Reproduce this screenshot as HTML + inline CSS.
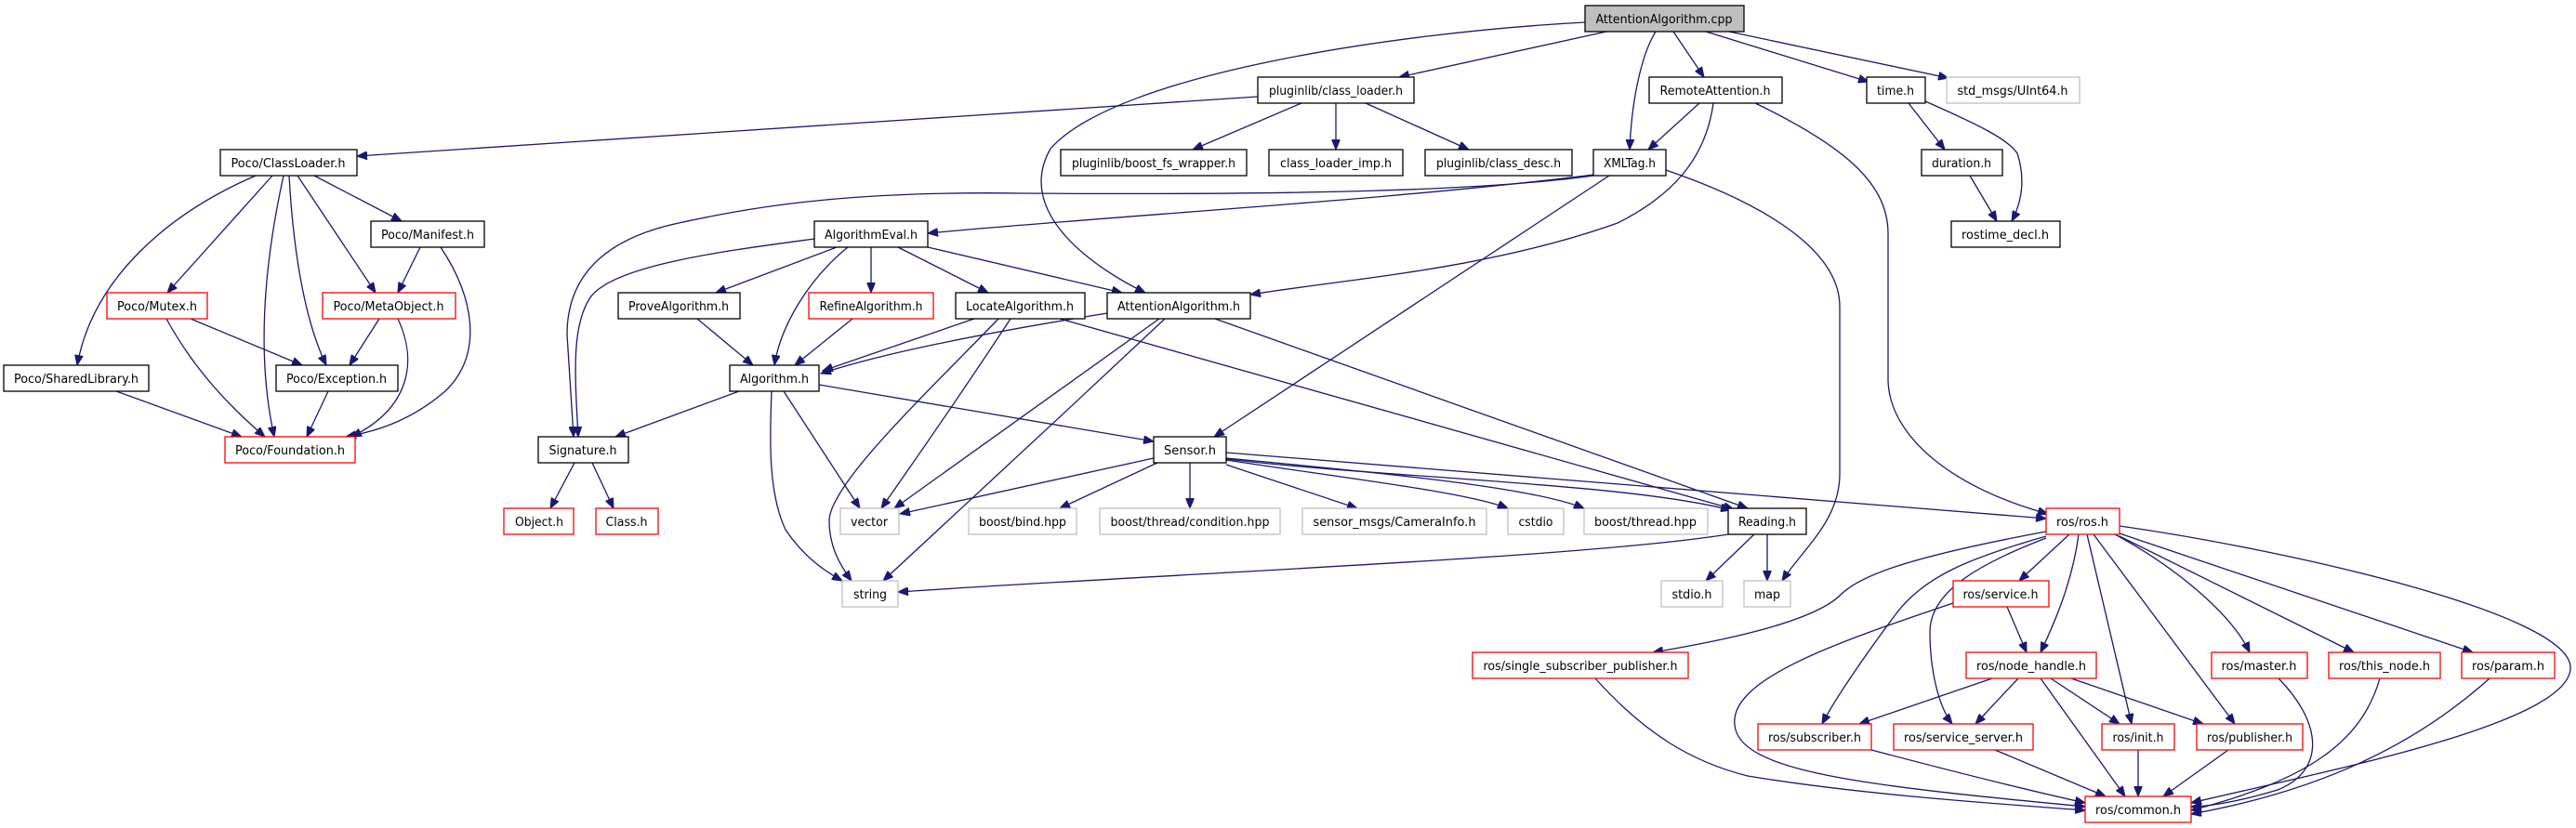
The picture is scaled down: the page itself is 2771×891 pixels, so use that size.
<!DOCTYPE html>
<html><head><meta charset="utf-8"><style>
html,body{margin:0;padding:0;background:#fff;}
svg{display:block;}
.n{fill:#fff;stroke:#000;stroke-width:1.3;}
.r{fill:#fff;stroke:#ff0000;stroke-width:1.3;}
.g{fill:#fff;stroke:#bfbfbf;stroke-width:1.3;}
text{font-family:"DejaVu Sans","Liberation Sans",sans-serif;font-size:13px;fill:#000;text-anchor:middle;}
path{fill:none;stroke:#191970;stroke-width:1.3;}
</style></head><body>
<svg width="2771" height="891" viewBox="0 0 2771 891" xmlns="http://www.w3.org/2000/svg">
<defs><marker id="a" markerUnits="userSpaceOnUse" markerWidth="12" markerHeight="9" refX="11" refY="4.5" orient="auto"><path d="M0,0 L11,4.5 L0,9 z" style="fill:#191970;stroke:#191970;stroke-width:1"/></marker></defs>
<g marker-end="url(#a)">
<path d="M1728,34 L1505,83"/>
<path d="M1781,34 C1765,60 1755,110 1753,161"/>
<path d="M1800,34 L1833,83"/>
<path d="M1860,34 L2096,84"/>
<path d="M1835,34 L2010,88"/>
<path d="M1705,24 C1500,35 1200,80 1130,160 C1090,230 1180,290 1232,315"/>
<path d="M1353,104 L384,168"/>
<path d="M1400,111 L1283,161"/>
<path d="M1437,111 L1437,161"/>
<path d="M1469,111 L1580,161"/>
<path d="M1828,111 L1773,161"/>
<path d="M1843,111 C1835,170 1800,210 1740,240 C1600,290 1450,300 1345,317"/>
<path d="M1888,111 C1990,160 2030,200 2031,250 L2031,410 C2033,470 2100,525 2203,553"/>
<path d="M1792,183 C1900,220 1979,270 1979,330 L1979,510 C1979,560 1940,590 1917,625"/>
<path d="M2053,111 L2092,161"/>
<path d="M2071,109 C2130,135 2160,150 2170,165 C2178,190 2176,215 2164,238"/>
<path d="M2119,189 L2148,238"/>
<path d="M1714,188 C1500,215 1200,232 998,251"/>
<path d="M1714,189 C1600,205 1400,210 1100,208 C900,205 800,225 730,240 C660,255 610,290 610,360 L617,470"/>
<path d="M1731,189 L1306,470"/>
<path d="M876,257 C780,270 660,285 635,320 C615,350 618,400 622,470"/>
<path d="M900,266 L770,315"/>
<path d="M912,266 C870,300 840,350 833,393"/>
<path d="M937,266 L937,315"/>
<path d="M966,266 L1063,315"/>
<path d="M998,266 L1207,315"/>
<path d="M750,343 L810,393"/>
<path d="M917,343 L855,393"/>
<path d="M1048,343 L885,399"/>
<path d="M1191,337 C1050,360 950,380 883,402"/>
<path d="M1087,343 Q1030,430 948,547"/>
<path d="M1074,343 C1000,420 893,520 892,560 C892,590 905,610 916,625"/>
<path d="M1140,343 L1865,548"/>
<path d="M1247,343 L962,547"/>
<path d="M1253,343 C1150,440 1020,560 950,625"/>
<path d="M1307,343 L1880,547"/>
<path d="M795,421 L662,470"/>
<path d="M881,414 L1241,475"/>
<path d="M843,421 L925,547"/>
<path d="M830,421 C828,470 826,530 845,570 C865,600 888,615 906,625"/>
<path d="M618,498 L592,547"/>
<path d="M637,498 L660,547"/>
<path d="M1241,493 L968,553"/>
<path d="M1245,498 L1140,547"/>
<path d="M1280,498 L1280,547"/>
<path d="M1319,500 L1460,547"/>
<path d="M1319,495 C1450,515 1580,530 1622,547"/>
<path d="M1319,493 C1500,510 1650,525 1704,547"/>
<path d="M1319,494 C1500,515 1750,520 1862,549"/>
<path d="M1319,487 L2201,558"/>
<path d="M1859,575 C1700,600 1300,615 966,637"/>
<path d="M1887,575 L1835,625"/>
<path d="M1901,575 L1901,625"/>
<path d="M2201,572 C2050,600 2000,620 1980,640 C1950,670 1850,690 1778,702"/>
<path d="M2226,575 L2172,625"/>
<path d="M2236,575 C2230,620 2215,660 2195,702"/>
<path d="M2201,577 C2120,600 2070,620 2040,660 C2010,700 1975,750 1960,779"/>
<path d="M2201,579 C2120,610 2076,640 2076,680 C2076,720 2085,760 2100,779"/>
<path d="M2245,575 L2293,779"/>
<path d="M2252,575 L2404,779"/>
<path d="M2275,575 C2340,610 2400,660 2420,702"/>
<path d="M2280,577 L2532,702"/>
<path d="M2280,574 L2660,702"/>
<path d="M2280,566 C2450,590 2770,660 2765,720 C2760,780 2500,830 2357,864"/>
<path d="M2159,653 L2180,702"/>
<path d="M2101,649 C1980,690 1860,730 1866,780 C1870,830 2000,845 2243,868"/>
<path d="M1716,730 C1770,790 1820,820 1880,835 C2000,855 2150,865 2243,872"/>
<path d="M2143,730 L2000,779"/>
<path d="M2171,730 L2125,779"/>
<path d="M2195,730 L2286,857"/>
<path d="M2206,730 L2280,779"/>
<path d="M2228,730 L2370,779"/>
<path d="M2013,807 C2100,830 2180,850 2243,864"/>
<path d="M2146,807 L2265,857"/>
<path d="M2300,807 L2300,857"/>
<path d="M2397,807 L2327,857"/>
<path d="M2451,730 C2500,780 2500,830 2450,850 C2400,865 2370,868 2357,868"/>
<path d="M2560,730 C2540,800 2480,840 2357,872"/>
<path d="M2678,730 C2600,800 2500,850 2357,876"/>
<path d="M275,189 C180,230 100,300 83,393"/>
<path d="M293,189 L180,315"/>
<path d="M305,189 C285,280 275,380 295,470"/>
<path d="M311,189 C316,280 330,350 351,393"/>
<path d="M320,189 L404,315"/>
<path d="M338,189 L432,238"/>
<path d="M452,266 L428,315"/>
<path d="M474,266 C510,320 520,380 480,420 C440,455 400,465 372,470"/>
<path d="M205,343 L325,393"/>
<path d="M179,343 C210,400 250,440 285,470"/>
<path d="M408,343 L376,393"/>
<path d="M428,343 C450,390 440,440 378,470"/>
<path d="M125,421 L260,470"/>
<path d="M353,421 L330,470"/>
</g>

<rect x="1705" y="6" width="171" height="28" style="fill:#bfbfbf;stroke:#000;stroke-width:1.3"/><text x="1790" y="25" textLength="147" lengthAdjust="spacingAndGlyphs">AttentionAlgorithm.cpp</text>
<rect class="n" x="1353" y="83" width="168" height="28"/><text x="1437" y="102" textLength="144" lengthAdjust="spacingAndGlyphs">pluginlib/class_loader.h</text>
<rect class="n" x="1774" y="83" width="143" height="28"/><text x="1845" y="102" textLength="119" lengthAdjust="spacingAndGlyphs">RemoteAttention.h</text>
<rect class="n" x="2008" y="83" width="63" height="28"/><text x="2039" y="102" textLength="40" lengthAdjust="spacingAndGlyphs">time.h</text>
<rect class="g" x="2094" y="83" width="143" height="28"/><text x="2165" y="102" textLength="119" lengthAdjust="spacingAndGlyphs">std_msgs/UInt64.h</text>
<rect class="n" x="237" y="161" width="147" height="28"/><text x="310" y="180" textLength="123" lengthAdjust="spacingAndGlyphs">Poco/ClassLoader.h</text>
<rect class="n" x="1141" y="161" width="200" height="28"/><text x="1241" y="180" textLength="176" lengthAdjust="spacingAndGlyphs">pluginlib/boost_fs_wrapper.h</text>
<rect class="n" x="1365" y="161" width="144" height="28"/><text x="1437" y="180" textLength="120" lengthAdjust="spacingAndGlyphs">class_loader_imp.h</text>
<rect class="n" x="1533" y="161" width="158" height="28"/><text x="1612" y="180" textLength="134" lengthAdjust="spacingAndGlyphs">pluginlib/class_desc.h</text>
<rect class="n" x="1714" y="161" width="78" height="28"/><text x="1753" y="180" textLength="56" lengthAdjust="spacingAndGlyphs">XMLTag.h</text>
<rect class="n" x="2067" y="161" width="87" height="28"/><text x="2110" y="180" textLength="64" lengthAdjust="spacingAndGlyphs">duration.h</text>
<rect class="n" x="399" y="238" width="122" height="28"/><text x="460" y="257" textLength="100" lengthAdjust="spacingAndGlyphs">Poco/Manifest.h</text>
<rect class="n" x="876" y="238" width="122" height="28"/><text x="937" y="257" textLength="100" lengthAdjust="spacingAndGlyphs">AlgorithmEval.h</text>
<rect class="n" x="2099" y="238" width="117" height="28"/><text x="2157" y="257" textLength="94" lengthAdjust="spacingAndGlyphs">rostime_decl.h</text>
<rect class="r" x="115" y="315" width="108" height="28"/><text x="169" y="334" textLength="86" lengthAdjust="spacingAndGlyphs">Poco/Mutex.h</text>
<rect class="r" x="347" y="315" width="143" height="28"/><text x="418" y="334" textLength="119" lengthAdjust="spacingAndGlyphs">Poco/MetaObject.h</text>
<rect class="n" x="665" y="315" width="131" height="28"/><text x="730" y="334" textLength="108" lengthAdjust="spacingAndGlyphs">ProveAlgorithm.h</text>
<rect class="r" x="870" y="315" width="134" height="28"/><text x="937" y="334" textLength="111" lengthAdjust="spacingAndGlyphs">RefineAlgorithm.h</text>
<rect class="n" x="1028" y="315" width="139" height="28"/><text x="1097" y="334" textLength="116" lengthAdjust="spacingAndGlyphs">LocateAlgorithm.h</text>
<rect class="n" x="1191" y="315" width="154" height="28"/><text x="1268" y="334" textLength="132" lengthAdjust="spacingAndGlyphs">AttentionAlgorithm.h</text>
<rect class="n" x="4" y="393" width="156" height="28"/><text x="82" y="412" textLength="134" lengthAdjust="spacingAndGlyphs">Poco/SharedLibrary.h</text>
<rect class="n" x="297" y="393" width="131" height="28"/><text x="362" y="412" textLength="108" lengthAdjust="spacingAndGlyphs">Poco/Exception.h</text>
<rect class="n" x="785" y="393" width="96" height="28"/><text x="833" y="412" textLength="74" lengthAdjust="spacingAndGlyphs">Algorithm.h</text>
<rect class="r" x="242" y="470" width="140" height="28"/><text x="312" y="489" textLength="118" lengthAdjust="spacingAndGlyphs">Poco/Foundation.h</text>
<rect class="n" x="579" y="470" width="97" height="28"/><text x="627" y="489" textLength="73" lengthAdjust="spacingAndGlyphs">Signature.h</text>
<rect class="n" x="1241" y="470" width="78" height="28"/><text x="1280" y="489" textLength="56" lengthAdjust="spacingAndGlyphs">Sensor.h</text>
<rect class="r" x="542" y="547" width="75" height="28"/><text x="580" y="566" textLength="52" lengthAdjust="spacingAndGlyphs">Object.h</text>
<rect class="r" x="641" y="547" width="67" height="28"/><text x="674" y="566" textLength="45" lengthAdjust="spacingAndGlyphs">Class.h</text>
<rect class="g" x="904" y="547" width="63" height="28"/><text x="935" y="566" textLength="40" lengthAdjust="spacingAndGlyphs">vector</text>
<rect class="g" x="1042" y="547" width="116" height="28"/><text x="1100" y="566" textLength="94" lengthAdjust="spacingAndGlyphs">boost/bind.hpp</text>
<rect class="g" x="1183" y="547" width="194" height="28"/><text x="1280" y="566" textLength="171" lengthAdjust="spacingAndGlyphs">boost/thread/condition.hpp</text>
<rect class="g" x="1401" y="547" width="198" height="28"/><text x="1500" y="566" textLength="175" lengthAdjust="spacingAndGlyphs">sensor_msgs/CameraInfo.h</text>
<rect class="g" x="1622" y="547" width="60" height="28"/><text x="1652" y="566" textLength="37" lengthAdjust="spacingAndGlyphs">cstdio</text>
<rect class="g" x="1704" y="547" width="133" height="28"/><text x="1770" y="566" textLength="110" lengthAdjust="spacingAndGlyphs">boost/thread.hpp</text>
<rect class="n" x="1859" y="547" width="84" height="28"/><text x="1901" y="566" textLength="62" lengthAdjust="spacingAndGlyphs">Reading.h</text>
<rect class="r" x="2201" y="547" width="79" height="28"/><text x="2240" y="566" textLength="56" lengthAdjust="spacingAndGlyphs">ros/ros.h</text>
<rect class="g" x="906" y="625" width="60" height="28"/><text x="936" y="644" textLength="36" lengthAdjust="spacingAndGlyphs">string</text>
<rect class="g" x="1787" y="625" width="66" height="28"/><text x="1820" y="644" textLength="43" lengthAdjust="spacingAndGlyphs">stdio.h</text>
<rect class="g" x="1876" y="625" width="50" height="28"/><text x="1901" y="644" textLength="28" lengthAdjust="spacingAndGlyphs">map</text>
<rect class="r" x="2101" y="625" width="103" height="28"/><text x="2152" y="644" textLength="81" lengthAdjust="spacingAndGlyphs">ros/service.h</text>
<rect class="r" x="1584" y="702" width="232" height="28"/><text x="1700" y="721" textLength="209" lengthAdjust="spacingAndGlyphs">ros/single_subscriber_publisher.h</text>
<rect class="r" x="2115" y="702" width="140" height="28"/><text x="2185" y="721" textLength="118" lengthAdjust="spacingAndGlyphs">ros/node_handle.h</text>
<rect class="r" x="2379" y="702" width="103" height="28"/><text x="2430" y="721" textLength="81" lengthAdjust="spacingAndGlyphs">ros/master.h</text>
<rect class="r" x="2505" y="702" width="120" height="28"/><text x="2565" y="721" textLength="98" lengthAdjust="spacingAndGlyphs">ros/this_node.h</text>
<rect class="r" x="2648" y="702" width="100" height="28"/><text x="2698" y="721" textLength="78" lengthAdjust="spacingAndGlyphs">ros/param.h</text>
<rect class="r" x="1891" y="779" width="122" height="28"/><text x="1952" y="798" textLength="100" lengthAdjust="spacingAndGlyphs">ros/subscriber.h</text>
<rect class="r" x="2037" y="779" width="150" height="28"/><text x="2112" y="798" textLength="128" lengthAdjust="spacingAndGlyphs">ros/service_server.h</text>
<rect class="r" x="2261" y="779" width="78" height="28"/><text x="2300" y="798" textLength="55" lengthAdjust="spacingAndGlyphs">ros/init.h</text>
<rect class="r" x="2363" y="779" width="114" height="28"/><text x="2420" y="798" textLength="92" lengthAdjust="spacingAndGlyphs">ros/publisher.h</text>
<rect class="r" x="2243" y="857" width="114" height="28"/><text x="2300" y="876" textLength="92" lengthAdjust="spacingAndGlyphs">ros/common.h</text>
</svg>
</body></html>
